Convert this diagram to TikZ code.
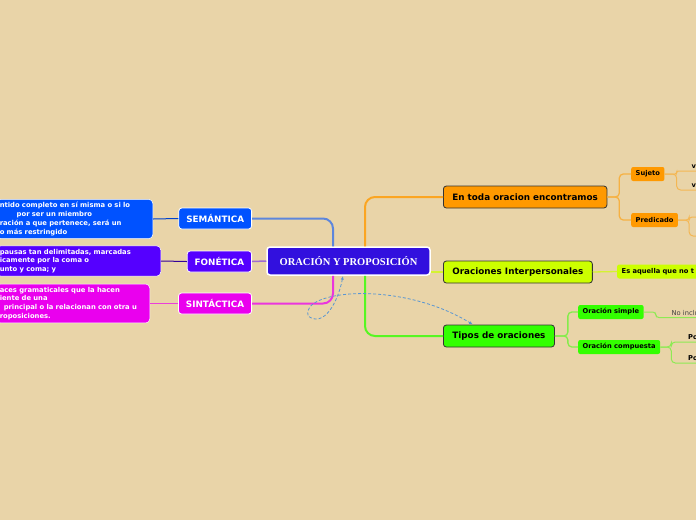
\documentclass[tikz,border=0pt]{standalone}
\usepackage{fontspec}
\setmainfont{DejaVu Sans}
\newfontfamily\titlefont{Liberation Serif}
\usetikzlibrary{arrows.meta}

\definecolor{paper}{RGB}{233,212,168}
\definecolor{semblue}{RGB}{0,82,255}
\definecolor{fonviolet}{RGB}{85,0,255}
\definecolor{sinpink}{RGB}{234,0,238}
\definecolor{rootblue}{RGB}{50,16,222}
\definecolor{todaorange}{RGB}{255,153,0}
\definecolor{interlime}{RGB}{204,255,0}
\definecolor{tiposgreen}{RGB}{51,255,0}
\definecolor{linkblue}{RGB}{90,150,210}

\tikzset{
  topic/.style={draw=black!80,line width=0.8pt,rounded corners=3pt,anchor=west,
    inner xsep=9pt,minimum height=22pt,font=\fontsize{8.8}{10}\selectfont\bfseries},
  leftlab/.style={draw=white,line width=0.8pt,rounded corners=3pt,anchor=east,text=white,
    inner xsep=7.5pt,minimum height=21pt,font=\fontsize{8.8}{10}\selectfont\bfseries},
  note/.style={draw=white,line width=0.5pt,rounded corners=4pt,text=white,anchor=east,
    align=left,inner xsep=3pt,inner ysep=3pt,font=\fontsize{6.8}{8.8}\selectfont\bfseries},
  sub/.style={rounded corners=2pt,minimum height=14pt,inner xsep=4.5pt,inner ysep=0pt,
    anchor=west,font=\fontsize{6.7}{8}\selectfont\bfseries},
  leaf/.style={anchor=south west,inner xsep=2pt,inner ysep=2pt,font=\fontsize{6.7}{8}\selectfont\bfseries},
  branch/.style={line width=2pt,rounded corners=10pt},
  twig/.style={line width=1.3pt,rounded corners=4pt},
}

\begin{document}
\begin{tikzpicture}[x=1pt,y=-1pt,>=latex]
  \useasboundingbox (0,0) rectangle (696,520);
  \clip (0,0) rectangle (696,520);
  \fill[paper] (0,0) rectangle (696,520);

  % centre
  \node[draw=white,line width=1.5pt,rounded corners=3pt,fill=rootblue,text=white,
    minimum width=163pt,minimum height=28pt,font=\titlefont\fontsize{10.5}{12}\selectfont\bfseries]
    (root) at (348.5,261) {ORACIÓN Y PROPOSICIÓN};

  % left side
  \node[leftlab,fill=semblue] (sem) at (252,218.5) {SEMÁNTICA};
  \node[leftlab,fill=fonviolet] (fon) at (252,261.5) {FONÉTICA};
  \node[leftlab,fill=sinpink] (sin) at (252,303.5) {SINTÁCTICA};

  \node[note,fill=semblue,text width=150pt] (semtxt) at (153,219)
    {ntido completo en sí misma o si lo\\\hspace*{17pt}por ser un miembro\\ración a que pertenece, será un\\o más restringido};
  \node[note,fill=fonviolet,text width=158pt] (fontxt) at (161,261)
    {pausas tan delimitadas, marcadas\\icamente por la coma o\\unto y coma; y};
  \node[note,fill=sinpink,text width=147pt] (sintxt) at (150,303.5)
    {aces gramaticales que la hacen\\iente de una\\\hspace*{4pt}principal o la relacionan con otra u\\roposiciones.};

  \draw[branch,semblue!60!paper] (sem.east) -| ([xshift=-15.5pt]root.north);
  \draw[line width=1.5pt,fonviolet!50!paper] (fon.east) -- (root.west);
  \draw[branch,sinpink!75!paper] (sin.east) -| ([xshift=-15.5pt]root.south);
  \draw[line width=1pt,semblue!80!black] (sem.west) -- (semtxt.east);
  \draw[line width=1pt,fonviolet!60!black] (fon.west) -- (fontxt.east);
  \draw[line width=1pt,sinpink!70!paper] (sin.west) -- (sintxt.east);

  % right side
  \node[topic,fill=todaorange] (toda) at (443,197) {En toda oracion encontramos};
  \node[topic,fill=interlime] (inter) at (443,272) {Oraciones Interpersonales};
  \node[topic,fill=tiposgreen] (tipos) at (443,336) {Tipos de oraciones};

  \draw[branch,todaorange!80!paper] ([xshift=16.5pt]root.north) |- (toda.west);
  \draw[line width=1.5pt,interlime!70!paper] (inter.west -| root.east) -- (inter.west);
  \draw[branch,tiposgreen!80!paper] ([xshift=16.5pt]root.south) |- (tipos.west);

  \node[sub,fill=todaorange] (sujeto) at (631,174) {Sujeto};
  \node[sub,fill=todaorange] (predicado) at (631,220) {Predicado};
  \node[sub,fill=interlime] (esaq) at (617,271.5) {Es aquella que no t};
  \node[sub,fill=tiposgreen] (simple) at (578,312) {Oración simple};
  \node[sub,fill=tiposgreen] (compuesta) at (578,347) {Oración compuesta};

  \draw[twig,todaorange!60!paper] (toda.east) -- ++(12,0) |- (sujeto.west);
  \draw[twig,todaorange!60!paper] (toda.east) -- ++(12,0) |- (predicado.west);
  \draw[line width=1.3pt,interlime!70!paper] (inter.east) -- (esaq.west);
  \draw[twig,tiposgreen!55!paper] (tipos.east) -- ++(13,0) |- (simple.west);
  \draw[twig,tiposgreen!55!paper] (tipos.east) -- ++(13,0) |- (compuesta.west);

  % leaves at the border
  \node[leaf] (v1) at (689.5,171) {v};
  \node[leaf] (v2) at (689.5,190) {v};
  \coordinate (pc1) at (700,217);
  \coordinate (pc2) at (700,236);
  \node[leaf,font=\fontsize{6.7}{8}\selectfont,text=black!75] (noinc) at (669.5,317.5) {No inclu};
  \node[leaf] (po1) at (686,342) {Po};
  \node[leaf] (po2) at (686,363) {Po};

  \draw[line width=1pt,rounded corners=2pt,todaorange!50!paper] (sujeto.east) -- ++(12,0) |- (v1.south east);
  \draw[line width=1pt,rounded corners=4pt,todaorange!50!paper] (sujeto.east) -- ++(12,0) |- (v2.south east);
  \draw[line width=1pt,rounded corners=3pt,todaorange!50!paper] (predicado.east) -- ++(11,0) |- (pc1);
  \draw[line width=1pt,rounded corners=4pt,todaorange!50!paper] (predicado.east) -- ++(11,0) |- (pc2);
  \draw[line width=1pt,rounded corners=3pt,tiposgreen!50!paper] (simple.east) -- ++(12,0) |- (noinc.south east);
  \draw[line width=1pt,rounded corners=4pt,tiposgreen!50!paper] (compuesta.east) -- ++(11,0) |- (po1.south east);
  \draw[line width=1pt,rounded corners=4pt,tiposgreen!50!paper] (compuesta.east) -- ++(11,0) |- (po2.south east);

  % dashed relation
  \coordinate (loop) at (308,316);
  \draw[linkblue,line width=0.8pt,dash pattern=on 3pt off 2pt,{Latex[length=4pt]}-{Latex[length=4pt]}]
    ([xshift=-5.5pt]root.south) .. controls (338,302) and (324,328) .. (loop)
    .. controls (300,290) and (400,280) .. ([xshift=30pt]tipos.north west);
\end{tikzpicture}
\end{document}
